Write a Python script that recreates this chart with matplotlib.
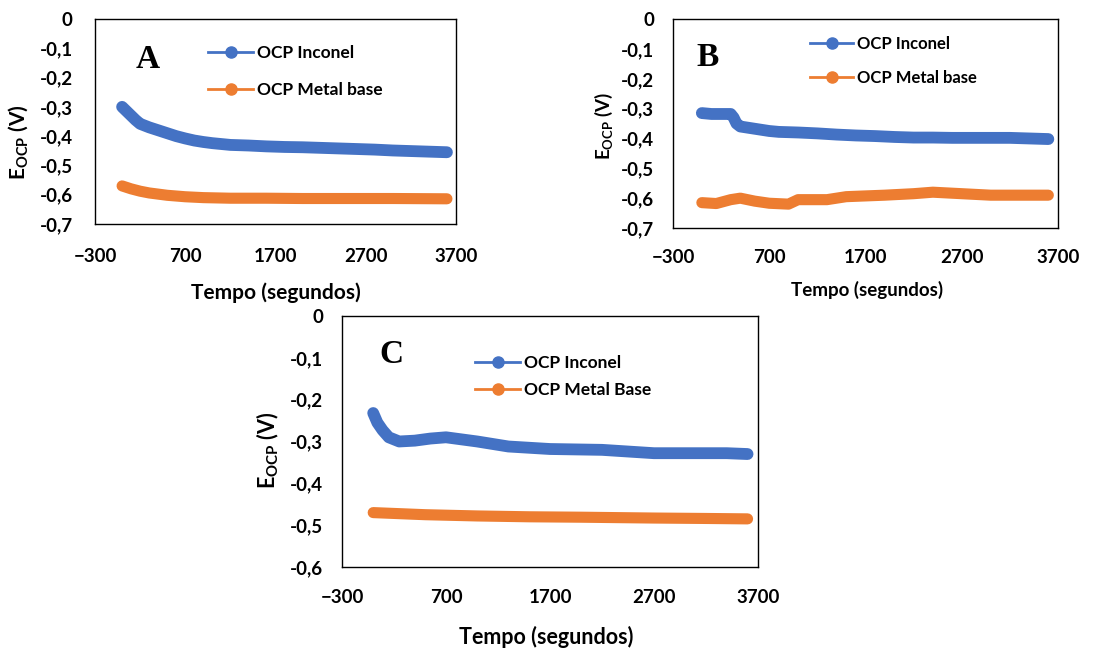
import matplotlib
matplotlib.use('Agg')
import matplotlib.pyplot as plt
from matplotlib.lines import Line2D
from matplotlib.ticker import FuncFormatter, MultipleLocator

plt.rcParams['font.family'] = ['Lato', 'DejaVu Sans']
plt.rcParams['font.weight'] = 'bold'
plt.rcParams['mathtext.fontset'] = 'custom'
plt.rcParams['mathtext.rm'] = 'Lato:bold'
plt.rcParams['mathtext.default'] = 'rm'

BLUE = '#4472C4'
ORANGE = '#ED7D31'

# --- panel A ---
a_t_inc = [0, 50, 100, 150, 200, 300, 400, 500, 600, 700, 800, 900, 1000, 1200,
           1400, 1600, 1800, 2000, 2200, 2400, 2600, 2800, 3000, 3200, 3400, 3600]
a_inc = [-0.30, -0.315, -0.33, -0.345, -0.358, -0.37, -0.38, -0.39, -0.40, -0.408,
         -0.415, -0.42, -0.424, -0.43, -0.432, -0.435, -0.437, -0.438, -0.44, -0.442,
         -0.444, -0.446, -0.449, -0.451, -0.453, -0.455]
a_t_met = [0, 100, 200, 300, 500, 700, 900, 1200, 1600, 2000, 2500, 3000, 3600]
a_met = [-0.57, -0.58, -0.588, -0.594, -0.602, -0.607, -0.61, -0.612, -0.612,
         -0.613, -0.613, -0.613, -0.614]

# --- panel B ---
b_t_inc = [0, 100, 200, 300, 330, 360, 400, 500, 600, 700, 800, 1000, 1200, 1400,
           1600, 1800, 2000, 2200, 2400, 2600, 2800, 3000, 3200, 3400, 3600]
b_inc = [-0.315, -0.318, -0.318, -0.318, -0.33, -0.35, -0.36, -0.365, -0.37, -0.375,
         -0.378, -0.38, -0.383, -0.387, -0.39, -0.392, -0.395, -0.397, -0.397, -0.398,
         -0.398, -0.398, -0.398, -0.40, -0.402]
b_t_met = [0, 150, 300, 400, 550, 700, 900, 1000, 1300, 1500, 1900, 2200, 2400,
           2700, 3000, 3300, 3600]
b_met = [-0.615, -0.618, -0.605, -0.60, -0.61, -0.617, -0.62, -0.605, -0.605,
         -0.595, -0.59, -0.585, -0.58, -0.585, -0.59, -0.59, -0.59]

# --- panel C ---
c_t_inc = [0, 40, 90, 150, 250, 400, 550, 700, 850, 1000, 1300, 1700, 2200, 2700,
           3100, 3400, 3600]
c_inc = [-0.232, -0.255, -0.273, -0.29, -0.30, -0.298, -0.293, -0.29, -0.295, -0.30,
         -0.312, -0.318, -0.32, -0.328, -0.328, -0.328, -0.33]
c_t_met = [0, 500, 1000, 1500, 2000, 2700, 3200, 3600]
c_met = [-0.47, -0.475, -0.478, -0.48, -0.481, -0.483, -0.484, -0.485]

xticks = [-300, 700, 1700, 2700, 3700]


def comma(v, pos):
    if abs(v) < 1e-9:
        return '0'
    return f'{v:.1f}'.replace('.', ',')


panels = [
    dict(pos=[0.0853, 0.6554, 0.324, 0.3154], ylim=(-0.7, 0), letter='A', lxy=(0.147, 0.80),
         inc=(a_t_inc, a_inc), met=(a_t_met, a_met), labels=['OCP Inconel', 'OCP Metal base'],
         leg=(0.313, 0.875), lsp=1.25, lfs=12.5, xpad=17, ypad=16,
         ylab=(-0.213, 0.40), xlab=(0.5, -0.337), xfs=15),
    dict(pos=[0.6041, 0.6492, 0.3456, 0.3215], ylim=(-0.7, 0), letter='B', lxy=(0.091, 0.818),
         inc=(b_t_inc, b_inc), met=(b_t_met, b_met), labels=['OCP Inconel', 'OCP Metal base'],
         leg=(0.356, 0.92), lsp=1.1, lfs=12, xpad=15, ypad=13.5,
         ylab=(-0.18, 0.49), xlab=(0.504, -0.297), xfs=13.5),
    dict(pos=[0.307, 0.1277, 0.3734, 0.3862], ylim=(-0.6, 0), letter='C', lxy=(0.12, 0.845),
         inc=(c_t_inc, c_inc), met=(c_t_met, c_met), labels=['OCP Inconel', 'OCP Metal Base'],
         leg=(0.32, 0.845), lsp=0.62, lfs=12.5, xpad=15.5, ypad=13.5,
         ylab=(-0.178, 0.466), xlab=(0.49, -0.279), xfs=15.5),
]

fig = plt.figure(figsize=(11.14, 6.5), dpi=100)

for p in panels:
    ax = fig.add_axes(p['pos'])
    ax.plot(*p['inc'], color=BLUE, lw=8.5, solid_capstyle='round', solid_joinstyle='round')
    ax.plot(*p['met'], color=ORANGE, lw=8, solid_capstyle='round', solid_joinstyle='round')
    ax.set_xlim(-300, 3700)
    ax.set_ylim(*p['ylim'])
    ax.set_xticks(xticks)
    ax.yaxis.set_major_locator(MultipleLocator(0.1))
    ax.yaxis.set_major_formatter(FuncFormatter(comma))
    ax.tick_params(axis='x', length=0, pad=p['xpad'], labelsize=13.5)
    ax.tick_params(axis='y', length=0, pad=p['ypad'], labelsize=13.5)
    for s in ax.spines.values():
        s.set_linewidth(1.0)
        s.set_color('black')

    ax.set_xlabel('Tempo (segundos)', fontsize=p['xfs'], fontweight='bold', va='center')
    ax.xaxis.set_label_coords(*p['xlab'])
    ax.set_ylabel(r'E$_{\mathrm{OCP}}$ (V)', fontsize=p['xfs'], fontweight='bold', va='center')
    ax.yaxis.set_label_coords(*p['ylab'])

    ax.text(p['lxy'][0], p['lxy'][1], p['letter'], transform=ax.transAxes,
            family='Liberation Serif', fontweight='bold', fontsize=24,
            ha='center', va='center')

    handles = [Line2D([], [], color=BLUE, lw=2, marker='o', markersize=8),
               Line2D([], [], color=ORANGE, lw=2, marker='o', markersize=8)]
    ax.legend(handles, p['labels'], loc='upper left', bbox_to_anchor=p['leg'],
              frameon=False, borderpad=0, borderaxespad=0, handlelength=2.6,
              handletextpad=0.2, labelspacing=p['lsp'], fontsize=p['lfs'])

fig.savefig('out.png', dpi=100)
